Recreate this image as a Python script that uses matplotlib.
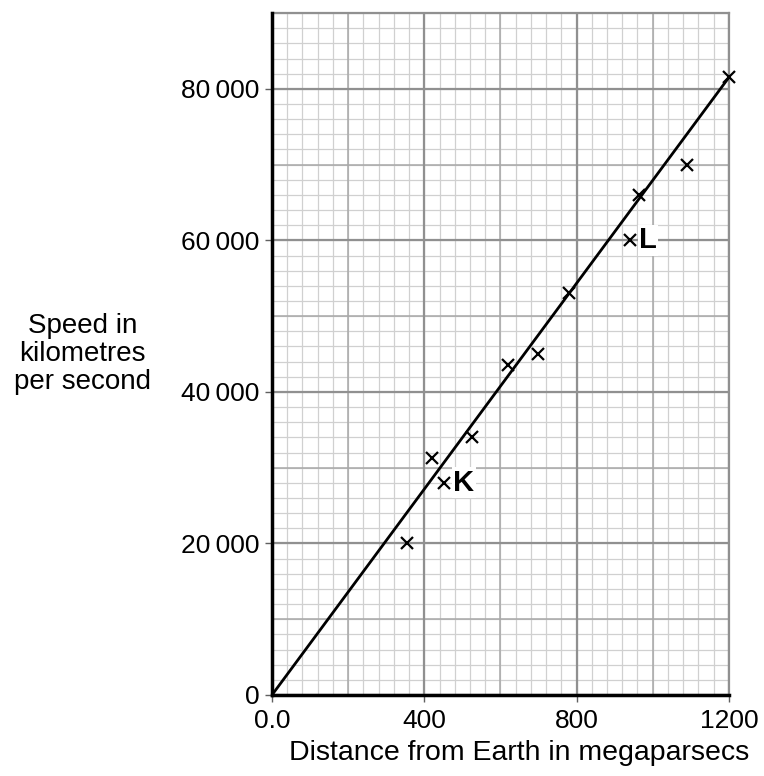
import matplotlib.pyplot as plt
import numpy as np

plt.rcParams['font.family'] = ['Liberation Sans', 'DejaVu Sans']

# measured galaxies
distance = [355, 420, 452, 525, 620, 700, 780, 940, 963, 1090, 1200]
speed = [20000, 31300, 28000, 34000, 43500, 45000, 53000, 60000, 66000, 70000, 81500]

# labelled points
labels = ['K', 'L']
label_x = [476, 964]
label_y = [28000, 60000]

# line of best fit
line_x = [0, 1200]
line_y = [0, 81500]

xticks = [0, 400, 800, 1200]
xtick_labels = ['0.0', '400', '800', '1200']
yticks = [0, 20000, 40000, 60000, 80000]
ytick_labels = ['0', '20\u2009000', '40\u2009000', '60\u2009000', '80\u2009000']


def main():
    fig = plt.figure(figsize=(7.64, 7.76), dpi=100)
    ax = fig.add_axes([0.356, 0.1044, 0.598, 0.8788])
    ax.set_xlim(0, 1200)
    ax.set_ylim(0, 90000)

    # graph paper grid: fine, medium, bold
    for x in np.arange(0, 1201, 40):
        ax.axvline(x, color='#d0d0d0', lw=0.9, zorder=0)
    for y in np.arange(0, 90001, 2000):
        ax.axhline(y, color='#d0d0d0', lw=0.9, zorder=0)
    for x in np.arange(0, 1201, 200):
        ax.axvline(x, color='#a8a8a8', lw=1.1, zorder=0)
    for y in np.arange(0, 90001, 10000):
        ax.axhline(y, color='#a8a8a8', lw=1.1, zorder=0)
    for x in xticks:
        ax.axvline(x, color='#909090', lw=1.6, zorder=0)
    for y in yticks:
        ax.axhline(y, color='#909090', lw=1.6, zorder=0)

    ax.plot(line_x, line_y, color='black', lw=2, zorder=3)
    ax.plot(distance, speed, 'x', color='black', ms=8, mew=1.6, zorder=4, clip_on=False)

    for lab, lx, ly in zip(labels, label_x, label_y):
        ax.text(lx, ly, lab, fontsize=21, fontweight='bold', ha='left', va='center',
                bbox=dict(facecolor='white', edgecolor='none', pad=1), zorder=5)

    for side in ['top', 'right']:
        ax.spines[side].set_color('#909090')
        ax.spines[side].set_linewidth(1.6)
    for side in ['left', 'bottom']:
        ax.spines[side].set_color('black')
        ax.spines[side].set_linewidth(2.5)
        ax.spines[side].set_zorder(6)

    ax.set_xticks(xticks)
    ax.set_xticklabels(xtick_labels)
    ax.set_yticks(yticks)
    ax.set_yticklabels(ytick_labels)
    ax.tick_params(direction='out', length=5, width=1, color='#606060', labelsize=19, pad=4)
    ax.tick_params(axis='x', pad=5)

    fig.text(0.68, 0.029, 'Distance from Earth in megaparsecs', fontsize=20.5,
             ha='center', va='center')
    fig.text(0.108, 0.544, 'Speed in\nkilometres\nper second', fontsize=20,
             ha='center', va='center', linespacing=1.1)

    fig.savefig('out.png', dpi=100)


if __name__ == "__main__":
    main()
